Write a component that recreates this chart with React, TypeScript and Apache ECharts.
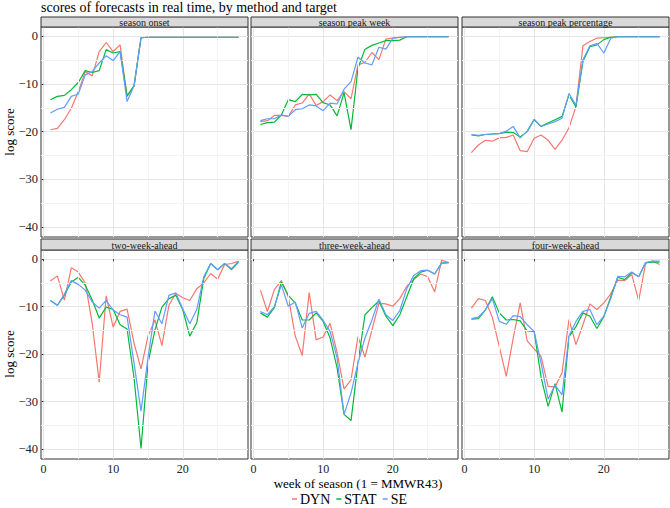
import React, { useEffect, useRef } from "react";
import * as echarts from "echarts";

const weeks = Array.from({ length: 28 }, (_, i) => i + 1);
const methods = ["DYN", "STAT", "SE"];
const methodColors = ["#F8766D", "#00BA38", "#619CFF"];
const targets = [
  "season onset",
  "season peak week",
  "season peak percentage",
  "two-week-ahead",
  "three-week-ahead",
  "four-week-ahead",
];

const onsetDYN = [-19.6, -19.3, -17.5, -15.1, -11.6, -7.4, -8.3, -3.2, -1.3, -3.2, -1.8, -12.6, -10.4, -0.3, -0.2, -0.2, -0.2, -0.2, -0.2, -0.2, -0.2, -0.2, -0.2, -0.2, -0.2, -0.2, -0.2, -0.2];
const onsetSTAT = [-13.3, -12.6, -12.4, -11.2, -9.7, -7.2, -7.6, -7.2, -2.8, -3.5, -3.2, -12.5, -10.4, -0.3, -0.2, -0.2, -0.2, -0.2, -0.2, -0.2, -0.2, -0.2, -0.2, -0.2, -0.2, -0.2, -0.2, -0.2];
const onsetSE = [-16.1, -15.3, -14.9, -12.6, -12.1, -8.1, -7.4, -5.6, -4.1, -5.1, -3.2, -13.7, -10.4, -0.3, -0.2, -0.2, -0.2, -0.2, -0.2, -0.2, -0.2, -0.2, -0.2, -0.2, -0.2, -0.2, -0.2, -0.2];

const peakWeekDYN = [-17.9, -17.7, -16.6, -16.6, -16.8, -14.4, -14.0, -12.1, -14.5, -13.7, -12.3, -13.5, -11.6, -13.1, -6.0, -5.5, -3.4, -4.9, -0.6, -0.4, -0.2, -0.1, -0.1, -0.1, -0.1, -0.1, -0.1, -0.1];
const peakWeekSTAT = [-18.5, -18.1, -18.0, -16.5, -13.3, -13.7, -12.2, -12.3, -12.2, -13.9, -14.4, -16.7, -11.8, -19.6, -6.7, -2.7, -1.9, -1.4, -0.9, -0.9, -0.8, -0.1, -0.1, -0.1, -0.1, -0.1, -0.1, -0.1];
const peakWeekSE = [-17.7, -17.3, -17.3, -16.5, -16.8, -15.4, -15.2, -14.4, -14.6, -15.6, -14.0, -14.2, -11.1, -9.5, -4.4, -5.6, -6.0, -2.3, -2.7, -0.4, -0.2, -0.1, -0.1, -0.1, -0.1, -0.1, -0.1, -0.1];

const peakPctDYN = [-24.4, -22.8, -21.8, -22.0, -21.3, -21.2, -20.7, -24.0, -24.2, -21.4, -20.7, -21.8, -23.7, -21.8, -19.2, -14.7, -2.0, -1.1, -0.4, -0.3, -0.2, -0.1, -0.1, -0.1, -0.1, -0.1, -0.1, -0.1];
const peakPctSTAT = [-20.7, -20.9, -20.6, -20.5, -20.4, -20.1, -20.2, -21.1, -20.0, -17.5, -18.9, -18.2, -17.5, -16.8, -12.3, -14.8, -5.3, -2.2, -1.8, -0.7, -0.2, -0.1, -0.1, -0.1, -0.1, -0.1, -0.1, -0.1];
const peakPctSE = [-20.6, -20.8, -20.6, -20.5, -20.4, -19.9, -18.9, -21.3, -19.9, -17.4, -18.9, -18.4, -17.9, -17.2, -12.0, -14.5, -4.9, -2.0, -1.5, -3.5, -0.4, -0.1, -0.1, -0.1, -0.1, -0.1, -0.1, -0.1];

const twoWeekDYN = [-4.6, -3.5, -8.6, -1.8, -2.7, -5.0, -13.5, -25.9, -7.7, -14.3, -11.0, -10.5, -17.7, -23.1, -16.2, -12.8, -18.2, -9.7, -7.2, -8.1, -8.7, -6.2, -5.0, -3.0, -4.2, -1.1, -0.9, -0.4];
const twoWeekSTAT = [-8.7, -9.7, -7.6, -4.8, -3.8, -5.5, -8.6, -12.4, -10.1, -10.6, -13.8, -14.7, -25.0, -39.9, -21.9, -14.9, -10.1, -8.3, -7.6, -10.7, -16.2, -13.4, -4.1, -0.9, -2.2, -0.9, -2.2, -0.6];
const twoWeekSE = [-8.7, -9.7, -7.4, -4.5, -5.3, -6.5, -9.0, -10.3, -8.7, -10.7, -11.7, -12.2, -21.9, -32.0, -20.8, -10.9, -13.6, -7.6, -7.1, -10.5, -13.6, -10.6, -3.7, -0.9, -2.2, -0.9, -2.0, -0.4];

const threeWeekDYN = [-6.5, -11.0, -6.4, -4.5, -7.9, -16.2, -20.3, -7.0, -17.0, -16.4, -13.5, -19.7, -27.3, -25.4, -16.3, -20.6, -14.9, -9.3, -9.4, -9.9, -8.3, -5.7, -4.3, -3.1, -3.7, -6.9, -0.2, -0.7];
const threeWeekSTAT = [-11.3, -12.2, -10.2, -4.8, -7.6, -9.2, -12.8, -12.8, -11.3, -13.1, -16.6, -22.9, -32.7, -34.0, -21.9, -11.7, -10.2, -8.8, -12.0, -14.0, -11.7, -7.9, -4.1, -2.7, -2.3, -3.1, -0.8, -0.7];
const threeWeekSE = [-11.0, -11.7, -10.0, -5.4, -9.9, -9.0, -14.5, -11.4, -11.0, -12.9, -15.2, -20.8, -32.7, -28.2, -21.9, -16.6, -12.8, -8.4, -11.7, -12.9, -10.8, -6.2, -3.4, -2.4, -2.3, -3.1, -0.8, -0.7];

const fourWeekDYN = [-10.3, -8.3, -8.7, -12.2, -18.4, -24.7, -16.6, -9.2, -17.2, -18.9, -20.5, -26.8, -26.9, -23.9, -12.7, -18.0, -13.8, -9.4, -10.6, -9.2, -7.3, -4.4, -4.5, -3.2, -8.7, -0.8, -0.4, -1.1];
const fourWeekSTAT = [-12.6, -12.5, -10.7, -7.9, -11.3, -12.8, -12.7, -13.0, -15.1, -15.2, -24.9, -31.0, -26.2, -32.2, -16.3, -14.2, -11.3, -12.0, -14.6, -12.1, -7.9, -3.8, -4.3, -2.8, -3.7, -0.7, -0.6, -0.6];
const fourWeekSE = [-12.5, -12.2, -10.7, -8.3, -13.1, -13.7, -11.9, -12.1, -13.8, -15.2, -21.9, -29.5, -26.5, -28.6, -16.2, -13.1, -11.0, -10.6, -13.8, -12.0, -8.3, -3.6, -3.7, -2.7, -3.7, -0.7, -0.4, -0.4];

const panelData = [
  [onsetDYN, onsetSTAT, onsetSE],
  [peakWeekDYN, peakWeekSTAT, peakWeekSE],
  [peakPctDYN, peakPctSTAT, peakPctSE],
  [twoWeekDYN, twoWeekSTAT, twoWeekSE],
  [threeWeekDYN, threeWeekSTAT, threeWeekSE],
  [fourWeekDYN, fourWeekSTAT, fourWeekSE],
];

const xMinorLines = [5, 15, 25];
const yMinorLines = [-35, -25, -15, -5];

const FONT = "Liberation Serif";

function buildOption() {
  const colLefts = [41, 251, 462];
  const panelW = 207;
  const rowTops = [27, 250];
  const panelH = [210, 209];
  const stripTops = [17, 239];
  const grids: any[] = [];
  const xAxes: any[] = [];
  const yAxes: any[] = [];
  const series: any[] = [];
  const graphics: any[] = [];

  for (let p = 0; p < 6; p++) {
    const r = Math.floor(p / 3);
    const c = p % 3;
    grids.push({
      left: colLefts[c],
      top: rowTops[r],
      width: panelW,
      height: panelH[r],
      show: true,
      backgroundColor: "#ffffff",
      borderColor: "#333333",
      borderWidth: 1,
      containLabel: false,
    });
    xAxes.push({
      type: "value",
      gridIndex: p,
      min: -0.35,
      max: 29.35,
      splitNumber: 3,
      axisLine: { show: false },
      axisTick: { show: r === 1, length: 2, lineStyle: { color: "#333" } },
      axisLabel: {
        show: r === 1,
        showMinLabel: false,
        showMaxLabel: false,
        margin: 4,
        fontFamily: FONT,
        fontSize: 12,
        color: "#222",
      },
      splitLine: {
        show: true,
        showMinLine: false,
        showMaxLine: false,
        lineStyle: { color: "#e6e6e6", width: 1 },
      },
    });
    yAxes.push({
      type: "value",
      gridIndex: p,
      min: -42.1,
      max: 1.95,
      splitNumber: 4,
      axisLine: { show: false },
      axisTick: { show: c === 0, length: 2, lineStyle: { color: "#333" } },
      axisLabel: {
        show: c === 0,
        showMinLabel: false,
        showMaxLabel: false,
        margin: 3,
        fontFamily: FONT,
        fontSize: 12.5,
        color: "#222",
        formatter: (v: number) => (v < 0 ? "\u2212" + Math.abs(v) : String(v)),
      },
      splitLine: {
        show: true,
        showMinLine: false,
        showMaxLine: false,
        lineStyle: { color: "#e6e6e6", width: 1 },
      },
    });
    // minor grid lines
    series.push({
      type: "line",
      xAxisIndex: p,
      yAxisIndex: p,
      data: [],
      z: 1,
      silent: true,
      markLine: {
        silent: true,
        symbol: "none",
        animation: false,
        label: { show: false },
        lineStyle: { color: "#f3f3f3", width: 1, type: "solid" },
        data: [
          ...xMinorLines.map((v) => ({ xAxis: v })),
          ...yMinorLines.map((v) => ({ yAxis: v })),
        ],
      },
    });
    for (let m = 0; m < 3; m++) {
      series.push({
        name: methods[m],
        type: "line",
        xAxisIndex: p,
        yAxisIndex: p,
        data: weeks.map((w, i) => [w, panelData[p][m][i]]),
        showSymbol: false,
        symbol: "none",
        z: 3 + m,
        lineStyle: { color: methodColors[m], width: 1.2 },
        itemStyle: { color: methodColors[m] },
      });
    }
    // strip
    graphics.push({
      type: "rect",
      shape: { x: colLefts[c], y: stripTops[r], width: panelW, height: rowTops[r] - stripTops[r] },
      style: { fill: "#d9d9d9", stroke: "#333333", lineWidth: 1 },
      z: 10,
    });
    graphics.push({
      type: "text",
      x: colLefts[c] + panelW / 2,
      y: (stripTops[r] + rowTops[r]) / 2 + 0.5,
      style: {
        text: targets[p],
        fill: "#1a1a1a",
        fontFamily: FONT,
        fontSize: 10,
        textAlign: "center",
        textVerticalAlign: "middle",
      },
      z: 11,
    });
  }

  // y-axis titles
  [132, 354].forEach((cy) => {
    graphics.push({
      type: "text",
      x: 9,
      y: cy,
      rotation: Math.PI / 2,
      style: {
        text: "log score",
        fill: "#000",
        fontFamily: FONT,
        fontSize: 13,
        textAlign: "center",
        textVerticalAlign: "middle",
      },
    });
  });
  // x-axis title
  graphics.push({
    type: "text",
    x: 358,
    y: 483,
    style: {
      text: "week of season (1 = MMWR43)",
      fill: "#000",
      fontFamily: FONT,
      fontSize: 13,
      textAlign: "center",
      textVerticalAlign: "middle",
    },
  });

  return {
    animation: false,
    backgroundColor: "#ffffff",
    title: {
      text: "scores of forecasts in real time, by method and target",
      left: 41,
      top: 0,
      padding: 0,
      textStyle: { fontFamily: FONT, fontSize: 14, fontWeight: "normal", color: "#000" },
    },
    legend: {
      data: methods,
      left: 292,
      top: 492,
      padding: 0,
      itemGap: 6,
      itemWidth: 5,
      itemHeight: 1.5,
      icon: "rect",
      textStyle: { fontFamily: FONT, fontSize: 14, color: "#000", padding: [0, 0, 0, -2] },
      selectedMode: false,
    },
    grid: grids,
    xAxis: xAxes,
    yAxis: yAxes,
    series,
    graphic: graphics,
  };
}

export default function App() {
  const ref = useRef<HTMLDivElement>(null);
  useEffect(() => {
    if (!ref.current) return;
    const chart = echarts.init(ref.current, null, { renderer: "svg" });
    chart.setOption(buildOption() as any);
    return () => chart.dispose();
  }, []);
  return <div ref={ref} style={{ width: 670, height: 508, position: "absolute", left: 0, top: 0 }} />;
}
